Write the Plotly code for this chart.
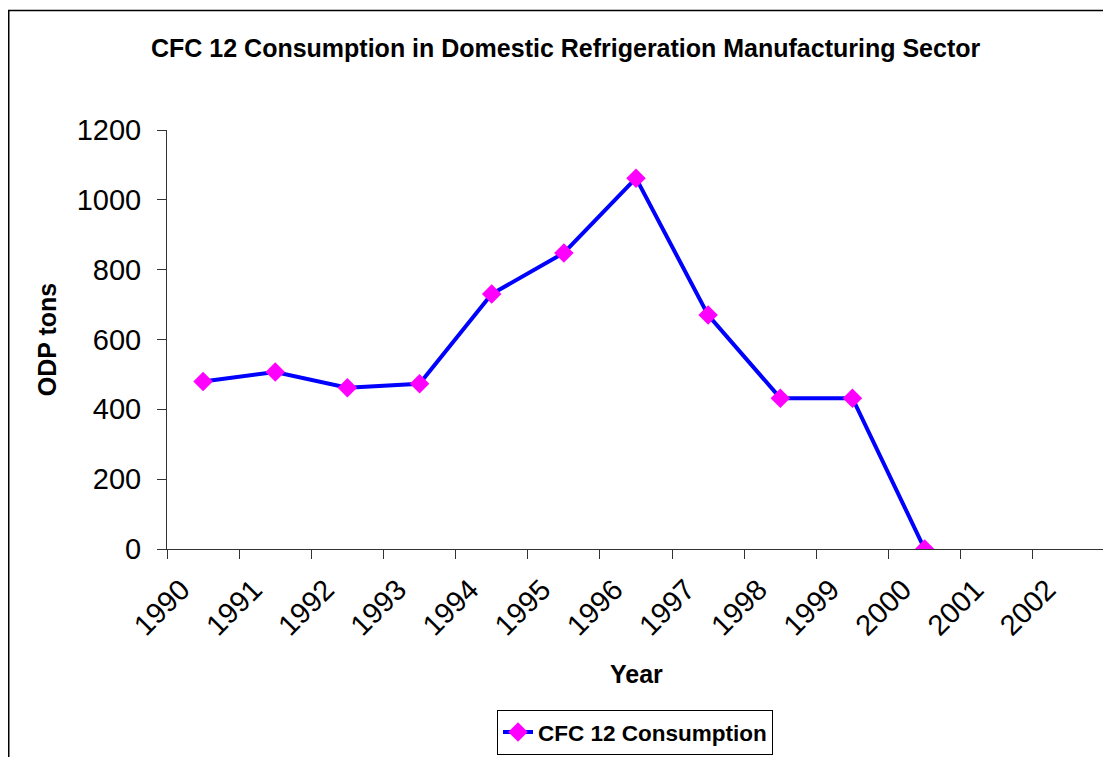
import plotly.graph_objects as go

years = ["1990", "1991", "1992", "1993", "1994", "1995", "1996", "1997", "1998", "1999", "2000", "2001", "2002"]
consumption = [480, 507, 462, 473, 730, 848, 1062, 670, 432, 432, 0, None, None]
y_ticks = [0, 200, 400, 600, 800, 1000, 1200]

FONT = "Liberation Sans, Arial, sans-serif"
idx = list(range(len(years)))

fig = go.Figure()
fig.add_trace(go.Scatter(
    x=idx, y=consumption, mode="lines+markers", name="CFC 12 Consumption",
    line=dict(color="#0000FF", width=4),
    marker=dict(symbol="diamond", size=15, color="#FF00FF", line=dict(width=0)),
    connectgaps=False,
))

OFF = 8  # default body margin of the html page
W, H = 1111 - OFF, 757 - OFF
L, R, T, B = 167 - OFF, 1105 - OFF, 129.5 - OFF, 549 - OFF
pw, ph = R - L, B - T

def px(x):
    return (x - OFF - L) / pw

def py(y):
    return (B - (y - OFF)) / ph

fig.update_layout(
    width=W, height=H,
    margin=dict(l=L, r=W - R, t=T, b=H - B, autoexpand=False),
    paper_bgcolor="white", plot_bgcolor="white",
    font=dict(family=FONT, color="black"),
    showlegend=True,
    legend=dict(
        x=px(635), y=py(755), xanchor="center", yanchor="bottom",
        bordercolor="black", borderwidth=1, bgcolor="white",
        font=dict(size=22.5, family=FONT, color="black", weight="bold"),
        orientation="h",
    ),
    xaxis=dict(
        range=[-0.5, len(years) - 0.5],
        automargin=False,
        tickmode="array",
        tickvals=[i - 0.3 for i in idx],
        ticktext=years,
        tickangle=-45,
        ticks="",
        ticklabelstandoff=11,
        tickfont=dict(size=29, family=FONT),
        showgrid=False, zeroline=False,
        showline=True, linecolor="#333333", linewidth=1,
        minor=dict(ticks="outside", tick0=-0.5, dtick=1, ticklen=9, tickcolor="#333333", tickwidth=1, showgrid=False),
        fixedrange=True,
    ),
    yaxis=dict(
        range=[0, 1200],
        automargin=False,
        tickmode="array", tickvals=y_ticks,
        ticks="outside", ticklen=9, tickcolor="#333333", tickwidth=1,
        ticklabelstandoff=10,
        tickfont=dict(size=29, family=FONT),
        showgrid=False, zeroline=False,
        showline=True, linecolor="#333333", linewidth=1,
        fixedrange=True,
    ),
    annotations=[
        dict(text="<b>CFC 12 Consumption in Domestic Refrigeration Manufacturing Sector</b>",
             xref="paper", yref="paper", x=px(566), y=py(47), xanchor="center", yanchor="middle",
             showarrow=False, font=dict(size=25, family=FONT)),
        dict(text="<b>ODP tons</b>", xref="paper", yref="paper", x=px(47), y=py(340),
             xanchor="center", yanchor="middle", textangle=-90,
             showarrow=False, font=dict(size=25, family=FONT)),
        dict(text="<b>Year</b>", xref="paper", yref="paper", x=px(636), y=py(674),
             xanchor="center", yanchor="middle",
             showarrow=False, font=dict(size=25, family=FONT)),
    ],
    shapes=[
        dict(type="rect", xref="paper", yref="paper",
             x0=px(8.75), y0=py(780), x1=px(1130), y1=py(9.75),
             line=dict(color="black", width=1.5), fillcolor="rgba(0,0,0,0)", layer="below"),
    ],
)

fig.write_html("out.html")
